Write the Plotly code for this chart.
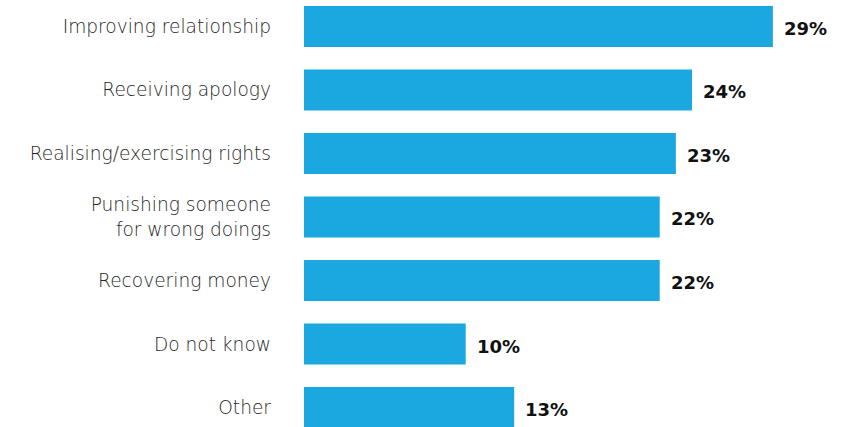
import plotly.graph_objects as go

categories = ["Improving relationship", "Receiving apology", "Realising/exercising rights",
              "Punishing someone<br>for wrong doings", "Recovering money", "Do not know", "Other"]
values = [29, 24, 23, 22, 22, 10, 13]
value_labels = ["29%", "24%", "23%", "22%", "22%", "10%", "13%"]

BAR = "#1ba8e0"

fig = go.Figure(go.Bar(
    x=values, y=categories, orientation="h",
    marker=dict(color=BAR, line=dict(width=0)),
    hoverinfo="skip",
))

for c, v, t in zip(categories, values, value_labels):
    fig.add_annotation(x=v, y=c, text=f"<b>{t}</b>", showarrow=False,
                       xanchor="left", xshift=9, yshift=-2,
                       font=dict(family="DejaVu Sans", size=18, color="#111111"))

fig.update_layout(
    width=845, height=427,
    margin=dict(l=304, r=0, t=0, b=0),
    paper_bgcolor="white", plot_bgcolor="white",
    bargap=0.354,
    showlegend=False,
    font=dict(family="DejaVu Sans", size=18, color="#333333"),
    xaxis=dict(range=[0, 33.46], visible=False, showgrid=False, zeroline=False),
    yaxis=dict(range=[6.307, -0.417], showgrid=False, zeroline=False, showline=False,
               ticks="", ticklabelstandoff=32,
               tickfont=dict(family="DejaVu Sans", size=18.6, color="#262626", weight=200)),
)

fig.write_html("out.html", post_script="document.body.style.margin='0';",
               config={"displayModeBar": False})
